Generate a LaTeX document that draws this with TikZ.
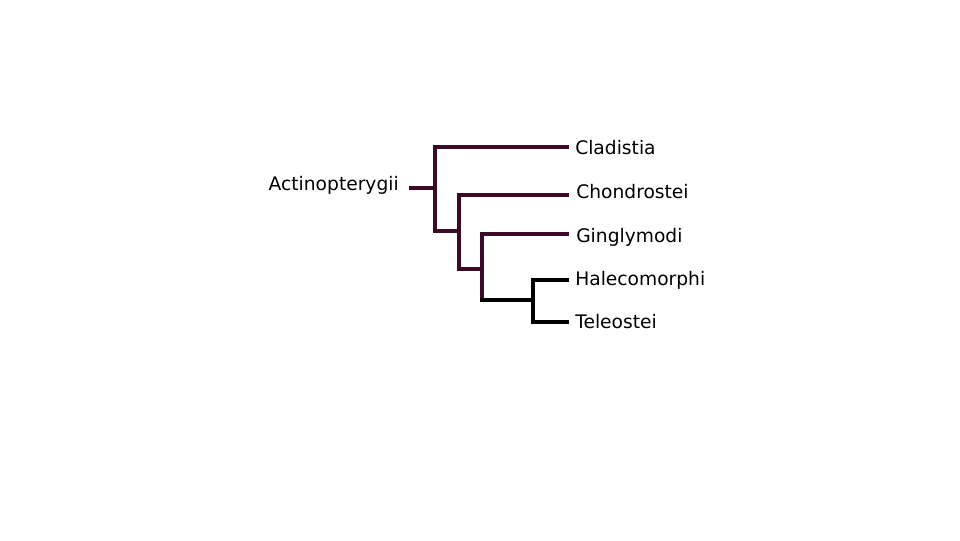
\documentclass[tikz,border=0pt]{standalone}
\usepackage{fontspec}
\setmainfont{DejaVu Sans}
\begin{document}
\begin{tikzpicture}[x=0.75pt,y=-0.75pt,
  br/.style={line width=2.3pt,draw={rgb,255:red,58;green,10;blue,40},line cap=rect},
  bk/.style={line width=2.3pt,draw=black,line cap=rect},
  lab/.style={font=\fontsize{14}{16}\selectfont,inner sep=0pt}]
\useasboundingbox (0,0) rectangle (960,540);
\node[lab,anchor=west] (cla) at (575,148) {Cladistia};
\node[lab,anchor=west] (cho) at (576,192) {Chondrostei};
\node[lab,anchor=west] (gin) at (576,237) {Ginglymodi};
\node[lab,anchor=west] (hal) at (575,280) {Halecomorphi};
\node[lab,anchor=west] (tel) at (575,322) {Teleostei};
\node[lab,anchor=east] (act) at (399,185) {Actinopterygii};
\coordinate (r0) at (411,188);
\coordinate (n1) at (435,188);
\coordinate (n2) at (459,231);
\coordinate (n3) at (482,269);
\coordinate (n4) at (533,300);
\draw[br] (r0) -- (n1);
\draw[br] (567,147) -| (n1) |- (n2);
\draw[br] (567,195) -| (459,195) -- (459,269) -- (n3);
\draw[br] (567,234) -| (482,234) -- (482,300);
\draw[bk] (482,300) -- (n4);
\draw[bk] (567,280) -| (533,322) -- (567,322);
\end{tikzpicture}
\end{document}
